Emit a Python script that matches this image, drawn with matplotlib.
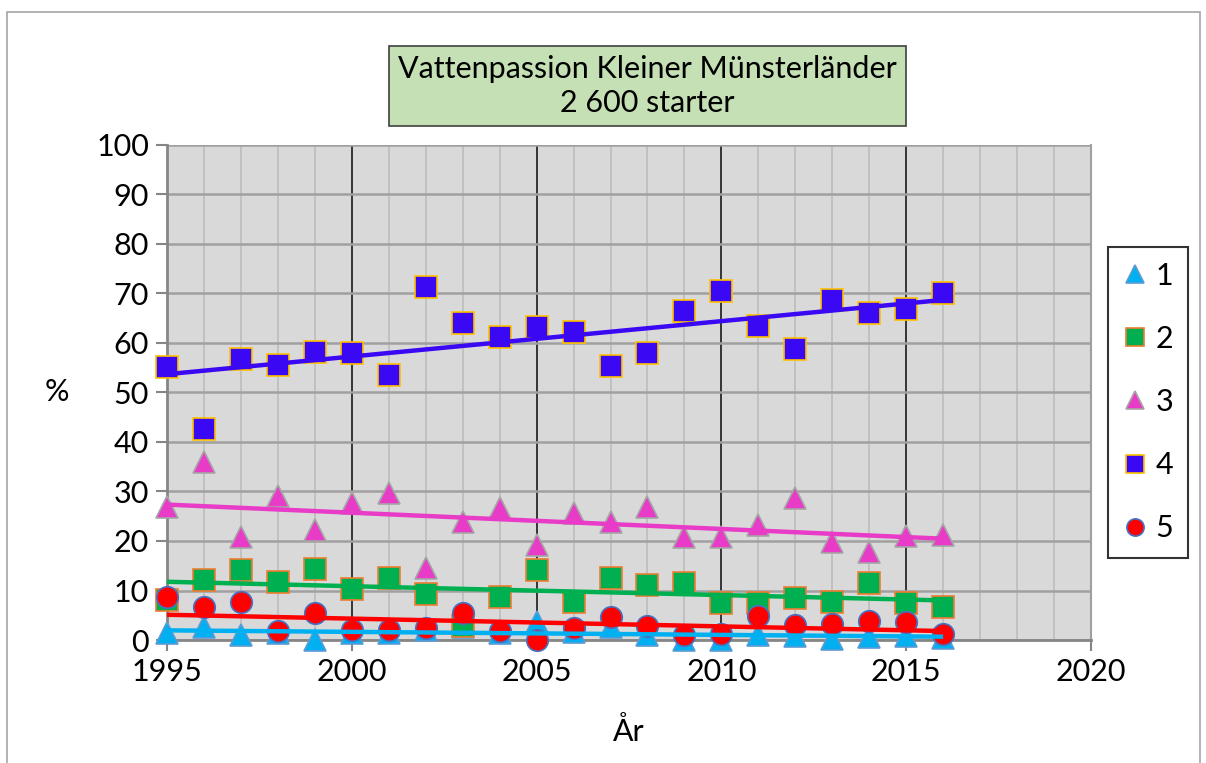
"""Vattenpassion Kleiner Münsterländer: share per prize class per year, with linear trends."""
import numpy as np
import matplotlib.pyplot as plt
from matplotlib.patches import Rectangle
from matplotlib.ticker import MultipleLocator

plt.rcParams['font.family'] = ['Lato', 'DejaVu Sans']

years = np.arange(1995, 2017)
s1 = [1.5, 2.6, 1.0, 1.5, 0.0, 1.5, 1.5, 2.0, 2.6, 1.5, 3.6, 1.7, 2.7, 1.0, 0.0,
      0.0, 1.0, 0.9, 0.3, 0.7, 0.8, 0.4]
s2 = [8.1, 12.1, 14.1, 11.8, 14.3, 10.3, 12.5, 9.3, 2.8, 8.7, 14.1, 7.7, 12.5, 11.1,
      11.5, 7.5, 7.4, 8.4, 7.6, 11.5, 7.4, 6.7]
s3 = [26.9, 36.0, 20.8, 29.0, 22.2, 27.7, 29.7, 14.5, 23.8, 26.6, 19.2, 25.6, 23.8,
      26.9, 20.8, 20.8, 23.2, 28.7, 19.8, 17.8, 21.0, 21.2]
s4 = [55.2, 42.6, 56.8, 55.6, 58.2, 58.0, 53.5, 71.3, 64.0, 61.3, 63.2, 62.3, 55.4,
      58.0, 66.5, 70.5, 63.4, 58.8, 68.7, 66.1, 66.8, 70.1]
s5 = [8.7, 6.7, 7.6, 1.9, 5.5, 2.0, 2.0, 2.4, 5.4, 1.8, 0.0, 2.4, 4.7, 2.9, 1.0,
      1.2, 4.8, 3.0, 3.2, 3.9, 3.7, 1.2]
labels = ['1', '2', '3', '4', '5']

series = [s1, s2, s3, s4, s5]
markers = ['^', 's', '^', 's', 'o']
faces = ['#00B0F0', '#00B050', '#E83CC8', '#3A08F2', '#FF0000']
edges = ['#5B9BD5', '#ED7D31', '#A5A5A5', '#FFC000', '#4472C4']

fig = plt.figure(figsize=(12.06, 7.63), dpi=100)
ax = fig.add_axes([0.1385, 0.1612, 0.7661, 0.6488])
ax.set_facecolor('#D9D9D9')

handles = []
for i, (s, m, fc, ec) in enumerate(zip(series, markers, faces, edges)):
    h, = ax.plot(years, s, ls='none', marker=m, ms=15.5, mfc=fc, mec=ec, mew=1.2,
                 zorder=3 + i * 0.1, label=labels[i], clip_on=False)
    handles.append(h)

# linear trend lines (Excel style), drawn over the markers
for i in [3, 2, 1, 4, 0]:
    k, b = np.polyfit(years, series[i], 1)
    ax.plot(years[[0, -1]], k * years[[0, -1]] + b, color=faces[i], lw=3.2,
            zorder=5 + i * 0.1, solid_capstyle='butt')

ax.set_xlim(1995, 2020)
ax.set_ylim(0, 100)
ax.xaxis.set_major_locator(MultipleLocator(5))
ax.xaxis.set_minor_locator(MultipleLocator(1))
ax.yaxis.set_major_locator(MultipleLocator(10))
ax.grid(axis='x', which='minor', color='#BDBDBD', lw=1.2, zorder=1)
ax.grid(axis='x', which='major', color='#1A1A1A', lw=1.2, zorder=1.5)
ax.grid(axis='y', which='major', color='#A0A0A0', lw=1.8, zorder=1)
ax.set_axisbelow(True)

ax.spines['top'].set_visible(False)
ax.spines['right'].set_color('#A0A0A0')
ax.spines['right'].set_linewidth(1.5)
for sp in ['left', 'bottom']:
    ax.spines[sp].set_color('#868686')
    ax.spines[sp].set_linewidth(2)

ax.tick_params(axis='both', which='major', direction='out', length=8, width=1.5,
               color='#868686', labelsize=22, pad=5)
ax.tick_params(axis='x', which='minor', length=0)

ax.set_xlabel('År', fontsize=22, labelpad=22)
ax.set_ylabel('%', fontsize=22, rotation=0, labelpad=28, va='center')

fig.text(0.537, 0.887, 'Vattenpassion Kleiner Münsterländer\n2 600 starter',
         ha='center', va='center', fontsize=22, linespacing=1.25,
         bbox=dict(boxstyle='square,pad=0.3', fc='#C5E0B4', ec='#404040', lw=1.2))

leg = fig.legend(handles=handles, loc='center', bbox_to_anchor=(0.952, 0.473),
                 fontsize=22, frameon=True, fancybox=False, edgecolor='black',
                 labelspacing=1.15, handlelength=0.8, handletextpad=0.25,
                 borderpad=0.5, markerscale=0.8, borderaxespad=0)
leg.get_frame().set_linewidth(1.5)

fig.patches.append(Rectangle((7 / 1206, -0.02), 1193 / 1206, 1.02 - 12 / 763,
                             transform=fig.transFigure, fill=False,
                             ec='#A6A6A6', lw=1.2))

fig.savefig('out.png', dpi=100)
